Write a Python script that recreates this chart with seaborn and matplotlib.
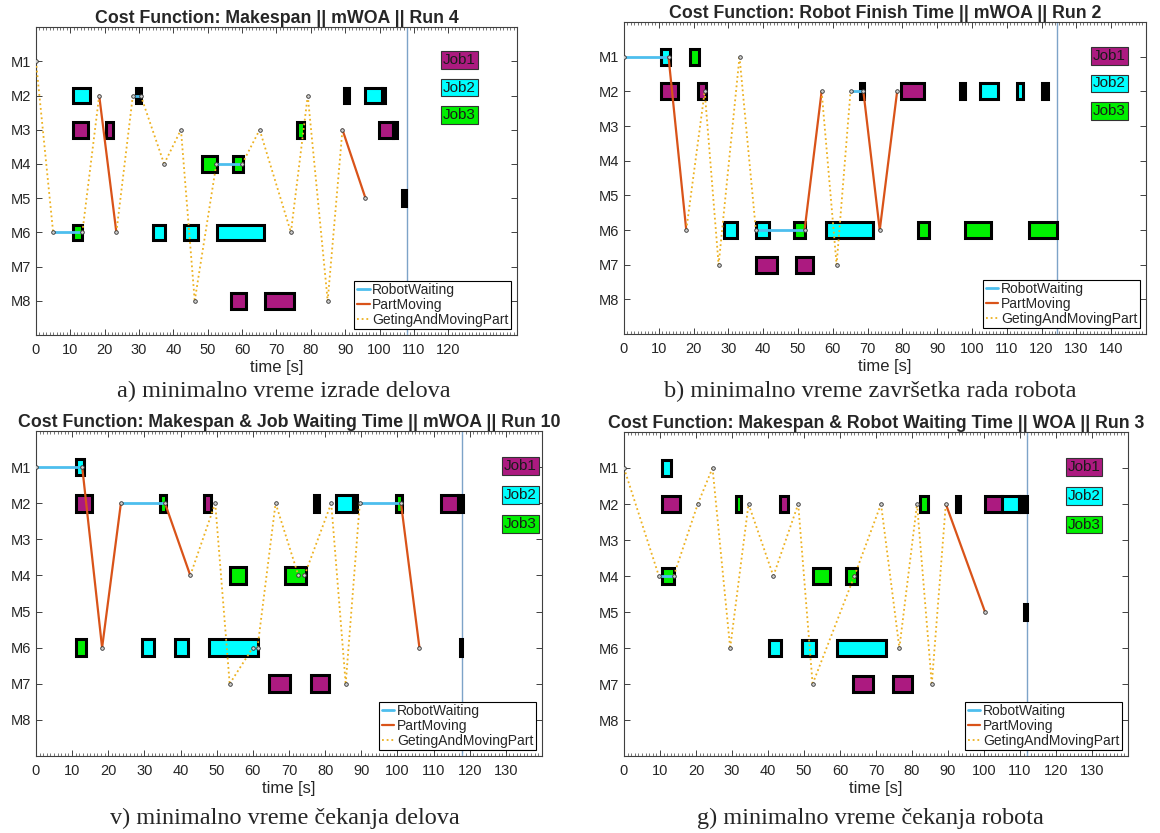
import numpy as np
import pandas as pd
import matplotlib
matplotlib.use('Agg')
import matplotlib.pyplot as plt
from matplotlib.lines import Line2D
from matplotlib.ticker import MultipleLocator
import seaborn as sns

# ---- a) Makespan || mWOA || Run 4 ----
a_mach  = [2, 2, 2, 2, 2, 3, 3, 3, 3, 3, 4, 4, 5, 6, 6, 6, 6, 8, 8]
a_start = [10.8, 29.1, 89.7, 95.8, 100.6, 10.8, 20.5, 76.1, 99.9, 103.8, 48.2, 57.4, 106.6, 10.8, 34.1, 43.2, 52.8, 56.9, 66.7]
a_end   = [15.6, 30.5, 91.1, 100.6, 101.5, 15.1, 22.4, 78.1, 103.8, 105.0, 52.8, 60.4, 107.8, 13.5, 37.5, 47.1, 66.3, 61.1, 75.1]
a_job   = [2, 0, 0, 2, 0, 1, 1, 3, 1, 0, 3, 3, 0, 3, 2, 2, 2, 1, 1]
# robot path: times, machines, and the kind of each leg (W wait, P part moving, G geting)
a_t   = [0, 5.0, 13.5, 18.4, 23.4, 28.2, 30.5, 37.3, 42.2, 46.2, 52.5, 60.0, 65.1, 74.2, 79.1, 84.9, 89.2, 95.9]
a_m   = [1, 6, 6, 2, 6, 2, 2, 4, 3, 8, 4, 4, 3, 6, 2, 8, 3, 5]
a_leg = ['G', 'W', 'G', 'P', 'G', 'W', 'G', 'G', 'G', 'G', 'W', 'G', 'G', 'G', 'G', 'G', 'P']
a_end_time = 108.0

# ---- b) Robot Finish Time || mWOA || Run 2 ----
b_mach  = [1, 1, 2, 2, 2, 2, 2, 2, 2, 2, 6, 6, 6, 6, 6, 6, 6, 7, 7]
b_start = [10.7, 18.9, 10.7, 21.3, 67.7, 79.6, 96.6, 102.4, 112.9, 120.2, 28.7, 37.9, 48.9, 58.1, 84.4, 98.1, 116.3, 37.9, 49.5]
b_end   = [13.3, 21.6, 15.6, 23.5, 68.9, 86.3, 98.1, 107.4, 114.8, 121.9, 32.4, 41.6, 52.1, 71.6, 87.6, 105.5, 124.5, 43.9, 54.2]
b_job   = [2, 3, 1, 1, 0, 1, 0, 2, 2, 0, 2, 2, 3, 2, 3, 3, 3, 1, 1]
b_t   = [0, 12.8, 17.9, 23.2, 27.2, 33.2, 37.9, 51.9, 56.8, 61.1, 65.1, 68.8, 73.5, 78.5]
b_m   = [1, 1, 6, 2, 7, 1, 6, 6, 2, 7, 2, 2, 6, 2]
b_leg = ['W', 'P', 'G', 'G', 'G', 'G', 'W', 'P', 'G', 'G', 'W', 'P', 'P']
b_end_time = 124.5

# ---- v) Makespan & Job Waiting Time || mWOA || Run 10 ----
c_mach  = [1, 2, 2, 2, 2, 2, 2, 2, 2, 2, 4, 4, 6, 6, 6, 6, 6, 7, 7]
c_start = [11.0, 11.0, 34.2, 46.5, 77.0, 83.0, 87.8, 99.6, 112.0, 116.8, 53.6, 68.9, 11.0, 29.3, 38.4, 48.0, 117.2, 64.6, 76.1]
c_end   = [13.4, 15.6, 35.9, 48.4, 78.3, 87.8, 88.9, 101.3, 116.8, 118.1, 58.2, 74.8, 13.9, 32.7, 42.1, 61.5, 118.0, 70.2, 81.1]
c_job   = [2, 1, 3, 1, 0, 2, 0, 3, 1, 0, 3, 3, 3, 2, 2, 2, 0, 1, 1]
c_t   = [0, 12.8, 18.3, 23.5, 35.7, 42.7, 49.6, 53.6, 60.0, 61.3, 66.3, 72.6, 74.3, 81.7, 85.7, 89.6, 101.0, 106.1]
c_m   = [1, 1, 6, 2, 2, 4, 2, 7, 6, 6, 2, 4, 4, 2, 7, 2, 2, 6]
c_leg = ['W', 'P', 'P', 'W', 'P', 'G', 'G', 'G', 'G', 'G', 'G', 'G', 'G', 'G', 'G', 'W', 'P']
c_end_time = 118.0

# ---- g) Makespan & Robot Waiting Time || WOA || Run 3 ----
d_mach  = [1, 2, 2, 2, 2, 2, 2, 2, 2, 2, 2, 4, 4, 4, 5, 6, 6, 6, 7, 7]
d_start = [10.7, 10.7, 31.2, 43.3, 82.1, 92.1, 100.3, 105.1, 109.6, 110.3, 111.2, 10.7, 52.5, 61.8, 111.1, 40.4, 49.4, 59.2, 63.5, 74.7]
d_end   = [13.2, 15.6, 32.5, 45.6, 84.5, 93.3, 105.1, 109.6, 110.3, 111.2, 112.0, 13.8, 57.1, 64.7, 112.0, 43.7, 53.3, 72.7, 69.1, 80.0]
d_job   = [2, 1, 3, 1, 3, 0, 1, 2, 0, 1, 0, 3, 3, 3, 0, 2, 2, 2, 1, 1]
d_t   = [0, 9.7, 13.8, 20.5, 24.6, 29.5, 34.6, 41.5, 48.4, 52.4, 64.0, 71.4, 76.5, 81.4, 85.5, 89.4, 100.3]
d_m   = [1, 4, 4, 2, 1, 6, 2, 4, 2, 7, 4, 2, 6, 2, 7, 2, 5]
d_leg = ['G', 'W', 'G', 'G', 'G', 'G', 'G', 'G', 'G', 'G', 'G', 'G', 'G', 'G', 'G', 'P']
d_end_time = 112.0

machines = ['M1', 'M2', 'M3', 'M4', 'M5', 'M6', 'M7', 'M8']
job_names = ['Job1', 'Job2', 'Job3']
job_colors = {0: 'black', 1: '#AC1A80', 2: '#00FFFF', 3: '#00F000'}
leg_names = ['RobotWaiting', 'PartMoving', 'GetingAndMovingPart']
leg_style = {'W': dict(color='#4DBEEE', linewidth=2.0, linestyle='-'),
             'P': dict(color='#D95319', linewidth=1.6, linestyle='-'),
             'G': dict(color='#EDB120', linewidth=1.3, linestyle=(0, (1, 1.6)))}

sns.set_theme(style='ticks')
plt.rcParams['font.family'] = ['Liberation Sans', 'DejaVu Sans']
plt.rcParams['axes.edgecolor'] = '#404040'
plt.rcParams['axes.linewidth'] = 0.8


def draw_panel(ax, mach, start, end, job, t, m, legs, end_time, title, xmax, xtick_max, job_x):
    tasks = pd.DataFrame({'mach': mach, 'start': start, 'end': end, 'job': job})
    ax.barh(tasks['mach'], tasks['end'] - tasks['start'], left=tasks['start'], height=0.46,
            color=[job_colors[j] for j in tasks['job']], edgecolor='black', linewidth=2.2, zorder=2)

    rows = []
    for i, leg in enumerate(legs):
        rows.append((i, leg, t[i], m[i]))
        rows.append((i, leg, t[i + 1], m[i + 1]))
    path = pd.DataFrame(rows, columns=['seg', 'kind', 't', 'm'])
    for kind in ['W', 'P', 'G']:
        sub = path[path['kind'] == kind]
        if len(sub):
            sns.lineplot(data=sub, x='t', y='m', units='seg', estimator=None, sort=False,
                         ax=ax, legend=False, zorder=3, **leg_style[kind])
    ax.plot(t, m, 'o', ms=2.6, mfc='#cfcfcf', mec='#303030', mew=0.6, zorder=4)

    ax.axvline(end_time, color='#7DA3C8', linewidth=1.0, zorder=1)

    for k, name in enumerate(job_names):
        ax.text(job_x, 0.97 + 0.8 * k, name, ha='center', va='center', fontsize=11, color='#1a1a1a',
                bbox=dict(boxstyle='square,pad=0.12', fc=job_colors[k + 1], ec='#333333', lw=0.8), zorder=5)

    handles = [Line2D([], [], **leg_style[k]) for k in ['W', 'P', 'G']]
    lg = ax.legend(handles, leg_names, loc='lower right', fontsize=10, handlelength=0.9,
                   handletextpad=0.2, borderpad=0.2, labelspacing=0.05, borderaxespad=0.4,
                   fancybox=False, framealpha=1, edgecolor='black')
    lg.get_frame().set_linewidth(0.8)

    ax.set_xlim(0, xmax)
    ax.set_ylim(9, 0)
    ax.set_xticks(np.arange(0, xtick_max + 1, 10))
    ax.xaxis.set_minor_locator(MultipleLocator(1))
    ax.set_yticks(range(1, 9))
    ax.set_yticklabels(machines)
    ax.tick_params(which='both', direction='in', top=True, right=True, labelsize=10.5, color='#404040')
    ax.tick_params(which='major', length=4, width=0.7)
    ax.tick_params(which='minor', length=2.2, width=0.5)
    ax.tick_params(axis='x', which='major', pad=6)
    ax.tick_params(axis='y', which='minor', left=False, right=False)
    ax.set_xlabel('time [s]', fontsize=12, labelpad=2)
    ax.set_ylabel('')
    ax.set_title(title, fontsize=12.8, fontweight='bold', pad=3)


fig = plt.figure(figsize=(11.6, 8.33), dpi=100)
ax_a = fig.add_axes([0.0310, 0.5978, 0.4147, 0.3697])
ax_b = fig.add_axes([0.5379, 0.5990, 0.4500, 0.3745])
ax_c = fig.add_axes([0.0310, 0.0924, 0.4362, 0.3902])
ax_d = fig.add_axes([0.5379, 0.0924, 0.4345, 0.3890])

draw_panel(ax_a, a_mach, a_start, a_end, a_job, a_t, a_m, a_leg, a_end_time,
           'Cost Function: Makespan || mWOA || Run 4', 140, 120, 123.2)
draw_panel(ax_b, b_mach, b_start, b_end, b_job, b_t, b_m, b_leg, b_end_time,
           'Cost Function: Robot Finish Time || mWOA || Run 2', 150, 140, 139.5)
draw_panel(ax_c, c_mach, c_start, c_end, c_job, c_t, c_m, c_leg, c_end_time,
           'Cost Function: Makespan & Job Waiting Time || mWOA || Run 10', 140, 130, 134.0)
draw_panel(ax_d, d_mach, d_start, d_end, d_job, d_t, d_m, d_leg, d_end_time,
           'Cost Function: Makespan & Robot Waiting Time || WOA || Run 3', 140, 130, 127.8)

captions = ['a) minimalno vreme izrade delova', 'b) minimalno vreme završetka rada robota',
            'v) minimalno vreme čekanja delova', 'g) minimalno vreme čekanja robota']
for (cx, cy), text in zip([(0.245, 0.530), (0.75, 0.530), (0.246, 0.018), (0.75, 0.018)], captions):
    fig.text(cx, cy, text, ha='center', va='center', fontsize=17.5, family='Liberation Serif')

fig.savefig('out.png', dpi=100)
